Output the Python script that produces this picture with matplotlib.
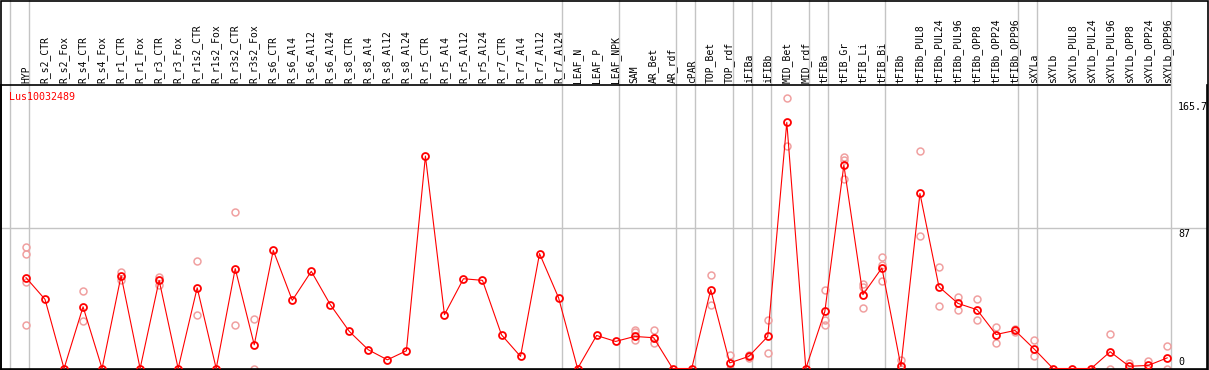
import matplotlib
matplotlib.use("Agg")
import matplotlib.pyplot as plt
from matplotlib.patches import Rectangle

# categories (x axis, labels on top)
samples = [
    "HYP", "R_s2_CTR", "R_s2_Fox", "R_s4_CTR", "R_s4_Fox", "R_r1_CTR", "R_r1_Fox",
    "R_r3_CTR", "R_r3_Fox", "R_r1s2_CTR", "R_r1s2_Fox", "R_r3s2_CTR", "R_r3s2_Fox",
    "R_s6_CTR", "R_s6_Al4", "R_s6_Al12", "R_s6_Al24", "R_s8_CTR", "R_s8_Al4",
    "R_s8_Al12", "R_s8_Al24", "R_r5_CTR", "R_r5_Al4", "R_r5_Al12", "R_r5_Al24",
    "R_r7_CTR", "R_r7_Al4", "R_r7_Al12", "R_r7_Al24", "LEAF_N", "LEAF_P", "LEAF_NPK",
    "SAM", "AR_Bet", "AR_rdf", "cPAR", "TOP_Bet", "TOP_rdf", "iFIBa", "iFIBb",
    "MID_Bet", "MID_rdf", "tFIBa", "tFIB_Gr", "tFIB_Li", "tFIB_Bi", "tFIBb",
    "tFIBb_PUL8", "tFIBb_PUL24", "tFIBb_PUL96", "tFIBb_OPP8", "tFIBb_OPP24", "tFIBb_OPP96",
    "sXYLa", "sXYLb", "sXYLb_PUL8", "sXYLb_PUL24", "sXYLb_PUL96", "sXYLb_OPP8",
    "sXYLb_OPP24", "sXYLb_OPP96",
]

# mean expression per sample
means = [
    56.4, 42.9, 0, 38.3, 0, 57.6, 0, 54.7, 0, 50.1, 0, 62.0, 14.7,
    73.3, 42.3, 60.3, 39.6, 23.0, 11.6, 5.4, 11.0, 131.8, 33.4, 55.7, 54.7,
    20.9, 7.5, 71.3, 43.9, 0, 20.5, 16.8,
    19.9, 19.1, 0, 0, 48.9, 3.5, 7.5, 19.9, 152.7, 0, 35.4, 126.2, 45.8, 62.4,
    1.4, 108.6, 50.7, 40.4, 36.5, 21.1, 23.6,
    12.2, 0, 0, 0, 10.4, 1.4, 1.9, 6.6,
]

# replicate values per sample (empty where none visible)
replicates = [
    [75.4, 71.3, 53.6, 27.1], [], [], [47.9, 29.2], [], [59.9, 54.7], [],
    [56.8, 52.0], [], [66.9, 33.4], [], [96.8, 27.1], [30.9, 0],
    [], [], [], [], [], [], [], [], [], [], [], [],
    [], [], [], [], [], [], [],
    [24.2, 22.6, 17.7], [23.6, 19.0, 15.6], [], [], [57.8, 39.6], [8.1, 0],
    [8.6, 6.4], [29.8, 9.7], [167.6, 138.0], [], [48.9, 30.2, 27.1],
    [131.0, 129.5, 117.3], [52.5, 50.4, 37.5], [69.0, 64.0, 54.5],
    [5.4, 0], [134.7, 82.5], [63.2, 38.9], [44.5, 36.0], [43.3, 29.8],
    [25.5, 16.0], [24.5, 22.7],
    [17.4, 7.9], [], [], [], [21.6, 0], [3.3, 0], [4.4, 0], [14.1, 0],
]

# last sample index of each tissue group (-1 = left edge)
group_ends = [-1, 0, 28, 31, 34, 35, 37, 38, 39, 41, 42, 45, 52, 53, 60]
y_labels = [165.7, 87, 0]
gene = "Lus10032489"

W, H = 1209, 370
fig = plt.figure(figsize=(W / 100, H / 100), dpi=100)
ax = fig.add_axes([1 / W, 1 / H, 1206 / W, 284 / H])

step = 19.02
ax.set_xlim((1 - 26) / step, (1207 - 26) / step)
ax.set_ylim(-0.3, 175.9)

grey = "#c4c4c4"
for g in group_ends:
    ax.axvline(g + 0.18, ymin=0, ymax=1.35, color=grey, lw=1.0, clip_on=False, zorder=1)
ax.axhline(87, color=grey, lw=1.0, zorder=1)

xs = list(range(len(samples)))
rx, ry = [], []
for i, reps in enumerate(replicates):
    for v in reps:
        rx.append(i)
        ry.append(v)
ax.plot(rx, ry, "o", ls="none", ms=5.0, mfc="none", mec="#f0a0a0", mew=1.1,
        zorder=2, clip_on=False)
ax.plot(xs, means, "-", color="red", lw=0.8, zorder=3)
ax.plot(xs, means, "o", ls="none", ms=5.0, mfc="none", mec="red", mew=1.3,
        zorder=4, clip_on=False)

ax.xaxis.tick_top()
ax.set_xticks(xs)
ax.set_xticklabels(samples, rotation=90, fontsize=7, family="DejaVu Sans Mono")
ax.tick_params(axis="x", length=0, pad=1.5)
ax.set_yticks([])

for s in ["left", "bottom", "right"]:
    ax.spines[s].set_color("black")
    ax.spines[s].set_linewidth(1.2)
ax.spines["top"].set_visible(False)
ax.plot([0, 1169 / 1206], [1, 1], transform=ax.transAxes, color="black",
        lw=1.2, clip_on=False)

tr = ax.get_yaxis_transform()
for v in y_labels:
    va = "bottom" if v == 0 else "top"
    off = 0.8 if v == 0 else -0.3
    ax.text(1177 / 1206, v + off, f"{v:g}", transform=tr, ha="left", va=va,
            fontsize=7.2, family="DejaVu Sans Mono")

fig.text(9 / W, 1 - 97 / H, gene, color="red", fontsize=7.2,
         family="DejaVu Sans Mono", ha="left", va="center")

fig.add_artist(Rectangle((0.5 / W, 0), 1 - 2 / W, 1 - 0.5 / H, transform=fig.transFigure,
                         fill=False, edgecolor="black", lw=1.2))

fig.savefig("out.png", dpi=100)
